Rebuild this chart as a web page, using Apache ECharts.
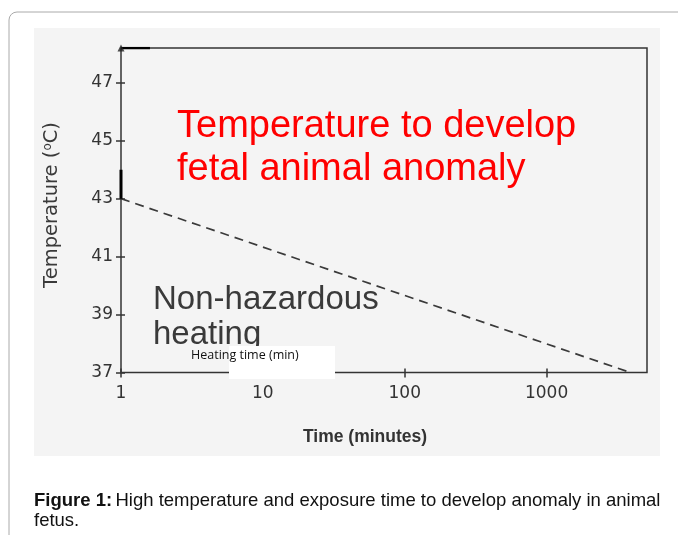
<!DOCTYPE html>
<html>
<head>
<meta charset="utf-8">
<script src="https://cdn.jsdelivr.net/npm/echarts@6/dist/echarts.min.js"></script>
<style>
html,body{margin:0;padding:0;background:#fff;}
#c{width:678px;height:535px;}
</style>
</head>
<body>
<div id="c"></div>
<script>
// ---- data ----
const xTickValues = [1, 10, 100, 1000];
const yTickValues = [37, 39, 41, 43, 45, 47];
const thresholdTime = [1, 3900];      // minutes
const thresholdTemp = [43, 37];       // °C
const xRange = [1, 5100];
const yRange = [37, 48.2];
const axisMarkTime = [1, 1];
const axisMarkTemp = [43, 44];
const topMarkTime = [1, 1.6];
const topMarkTemp = [48.2, 48.2];

const chart = echarts.init(document.getElementById('c'), null, {renderer: 'canvas'});
const ink = '#333';
const bg = '#f4f4f4';
const tickFont = 'DejaVu Sans, sans-serif';
const sans = 'Liberation Sans, Arial, sans-serif';

const option = {
  animation: false,
  backgroundColor: '#fff',
  grid: {left: 121, top: 48, right: 31, bottom: 162.5, show: true, borderColor: ink, borderWidth: 1.5, backgroundColor: 'transparent', z: 2},
  xAxis: [
    {type: 'log', logBase: 10, min: xRange[0], max: xRange[1], interval: 1,
     axisLine: {show: false}, splitLine: {show: false},
     axisTick: {show: true, length: 5, lineStyle: {color: ink, width: 1.5}, customValues: xTickValues},
     axisLabel: {color: '#333', fontSize: 17, fontFamily: tickFont, margin: 13, customValues: xTickValues,
                 formatter: v => String(Math.round(v))}},
    {type: 'log', logBase: 10, min: xRange[0], max: xRange[1], interval: 1, position: 'bottom',
     axisLine: {show: false}, splitLine: {show: false}, axisLabel: {show: false},
     axisTick: {show: true, inside: true, length: 4, lineStyle: {color: ink, width: 1.5}, customValues: xTickValues}}
  ],
  yAxis: [
    {type: 'value', min: yRange[0], max: yRange[1], interval: 2,
     axisLine: {show: false}, splitLine: {show: false},
     axisTick: {show: true, length: 5, lineStyle: {color: ink, width: 1.5}, customValues: yTickValues},
     axisLabel: {color: '#333', fontSize: 17, fontFamily: tickFont, margin: 8, customValues: yTickValues}},
    {type: 'value', min: yRange[0], max: yRange[1], interval: 2, position: 'left',
     axisLine: {show: false}, splitLine: {show: false}, axisLabel: {show: false},
     axisTick: {show: true, inside: true, length: 4, lineStyle: {color: ink, width: 1.5}, customValues: yTickValues}}
  ],
  series: [
    {type: 'line', data: thresholdTime.map((t, i) => [t, thresholdTemp[i]]), symbol: 'none',
     lineStyle: {color: '#3a3a3a', width: 1.7, type: [9, 6]}, z: 3},
    {type: 'line', data: axisMarkTime.map((t, i) => [t, axisMarkTemp[i]]), symbol: 'none',
     lineStyle: {color: '#000', width: 3}, z: 4},
    {type: 'line', data: topMarkTime.map((t, i) => [t, topMarkTemp[i]]), symbol: 'none',
     lineStyle: {color: '#000', width: 2.5}, z: 4},
    {type: 'scatter', data: [[topMarkTime[0], topMarkTemp[0]]], symbol: 'triangle', symbolSize: 7,
     itemStyle: {color: '#222'}, z: 5}
  ],
  graphic: [
    // card border
    {type: 'rect', shape: {x: 9, y: 12, width: 700, height: 560, r: 8}, style: {fill: '#fff', stroke: '#aaa', lineWidth: 1}, z: -20, silent: true},
    // scanned figure background
    {type: 'rect', shape: {x: 34, y: 28, width: 626, height: 428}, style: {fill: bg}, z: -10, silent: true},
    // y axis name
    {type: 'text', x: 52, y: 205, rotation: Math.PI / 2, z: 10,
     style: {text: '{a|Temperature (}{s|o}{a|C)}', align: 'center', verticalAlign: 'middle',
       rich: {a: {fontSize: 19.5, fill: '#3a3a3a', fontFamily: tickFont},
              s: {fontSize: 12, fill: '#3a3a3a', fontFamily: tickFont, verticalAlign: 'top', padding: [0,0,8,0]}}}},
    // x axis name
    {type: 'text', x: 365, y: 437, z: 10,
     style: {text: 'Time (minutes)', fontSize: 17.5, fontWeight: 'bold', fill: '#333', align: 'center', verticalAlign: 'middle', fontFamily: sans}},
    // red annotation
    {type: 'text', x: 177, y: 127, z: 10,
     style: {text: 'Temperature to develop', fontSize: 38, fill: '#ff0000', align: 'left', verticalAlign: 'middle', fontFamily: sans}},
    {type: 'text', x: 177, y: 170, z: 10,
     style: {text: 'fetal animal anomaly', fontSize: 38, fill: '#ff0000', align: 'left', verticalAlign: 'middle', fontFamily: sans}},
    // gray annotation
    {type: 'text', x: 153, y: 300, z: 10,
     style: {text: 'Non-hazardous', fontSize: 33, fill: '#3a3a3a', align: 'left', verticalAlign: 'middle', fontFamily: sans}},
    {type: 'text', x: 153, y: 335, z: 10,
     style: {text: 'heating', fontSize: 33, fill: '#3a3a3a', align: 'left', verticalAlign: 'middle', fontFamily: sans}},
    // clip of "heating" bottom
    {type: 'rect', shape: {x: 148, y: 346, width: 82, height: 22}, style: {fill: bg}, z: 11, silent: true},
    {type: 'rect', shape: {x: 229, y: 346, width: 106, height: 33}, style: {fill: '#fff'}, z: 11, silent: true},
    {type: 'text', x: 191, y: 355, z: 12,
     style: {text: 'Heating time (min)', fontSize: 12.5, fill: '#111', align: 'left', verticalAlign: 'middle', fontFamily: 'Open Sans, sans-serif'}},
    // caption
    {type: 'text', x: 34, y: 501, z: 10,
     style: {text: '{b|Figure 1:} {n|High temperature and exposure time to develop anomaly in animal}', verticalAlign: 'middle',
       rich: {b: {fontSize: 18.5, fontWeight: 'bold', fill: '#111', fontFamily: sans},
              n: {fontSize: 18.5, fill: '#111', fontFamily: sans}}}},
    {type: 'text', x: 34, y: 521, z: 10,
     style: {text: 'fetus.', fontSize: 18.5, fill: '#111', verticalAlign: 'middle', fontFamily: sans}}
  ]
};
chart.setOption(option);
</script>
</body>
</html>
